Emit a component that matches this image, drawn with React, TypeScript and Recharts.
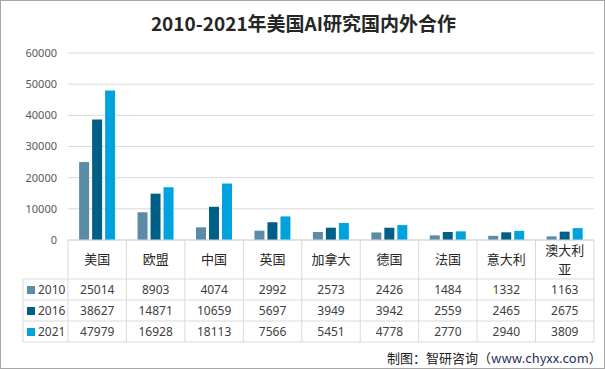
import { BarChart, Bar, XAxis, YAxis, CartesianGrid } from 'recharts';

const countries = ['美国', '欧盟', '中国', '英国', '加拿大', '德国', '法国', '意大利', '澳大利亚'];
const years = ['2010', '2016', '2021'];
const values2010 = [25014, 8903, 4074, 2992, 2573, 2426, 1484, 1332, 1163];
const values2016 = [38627, 14871, 10659, 5697, 3949, 3942, 2559, 2465, 2675];
const values2021 = [47979, 16928, 18113, 7566, 5451, 4778, 2770, 2940, 3809];
const yTicks = [0, 10000, 20000, 30000, 40000, 50000, 60000];

const COLORS = ['#5b8ba7', '#005f87', '#00a3dd'];
const seriesValues = [values2010, values2016, values2021];

const data = countries.map((name, i) => ({
  name,
  y2010: values2010[i],
  y2016: values2016[i],
  y2021: values2021[i],
}));

const W = 605;
const H = 369;
const PLOT_LEFT = 68;
const PLOT_RIGHT = 594;
const AXIS_Y = 240;
const COL_W = (PLOT_RIGHT - PLOT_LEFT) / countries.length;
const ROWS = [279, 300, 321, 342];
const LEGEND_X = 23;
const LINE = '#d9d9d9';
const FONT = '"Noto Sans CJK SC", "Noto Sans", sans-serif';
const NUM_FONT = '"Noto Sans", sans-serif';

// each x tick draws one column of the data table
const TableColumn = (props: any) => {
  const { x, payload } = props;
  const idx = payload.index;
  const name: string = payload.value;
  const right = x + COL_W / 2;
  const left = x - COL_W / 2;
  const lines = name.length > 3 ? [name.slice(0, 3), name.slice(3)] : [name];

  return (
    <g fontFamily={FONT}>
      {idx === 0 && (
        <g>
          <line x1={left} x2={left} y1={AXIS_Y} y2={ROWS[3]} stroke={LINE} />
          <line x1={LEGEND_X} x2={LEGEND_X} y1={ROWS[0]} y2={ROWS[3]} stroke={LINE} />
          {ROWS.map((ry) => (
            <line key={ry} x1={LEGEND_X} x2={PLOT_RIGHT} y1={ry} y2={ry} stroke={LINE} />
          ))}
          {years.map((yr, r) => (
            <g key={yr}>
              <rect x={27} y={ROWS[r] + 7} width={8} height={8} fill={COLORS[r]} />
              <text x={38} y={ROWS[r] + 15} fontSize={12} fontFamily={NUM_FONT} fill="#404040">
                {yr}
              </text>
            </g>
          ))}
        </g>
      )}
      <line x1={right} x2={right} y1={AXIS_Y} y2={ROWS[3]} stroke={LINE} />
      {lines.length === 1 ? (
        <text x={x} y={AXIS_Y + 24} textAnchor="middle" fontSize={13} fill="#262626">
          {lines[0]}
        </text>
      ) : (
        lines.map((l, k) => (
          <text key={k} x={x} y={AXIS_Y + 15 + k * 19} textAnchor="middle" fontSize={13} fill="#262626">
            {l}
          </text>
        ))
      )}
      {seriesValues.map((vals, r) => (
        <text
          key={r}
          x={x}
          y={ROWS[r] + 15}
          textAnchor="middle"
          fontSize={12}
          fontFamily={NUM_FONT}
          fill="#404040"
        >
          {vals[idx]}
        </text>
      ))}
    </g>
  );
};

export default function App() {
  return (
    <div
      style={{
        position: 'fixed',
        left: 0,
        top: 0,
        width: W,
        height: H,
        border: '1px solid #a6a6a6',
        boxSizing: 'border-box',
        background: '#fff',
        overflow: 'hidden',
      }}
    >
      <div
        style={{
          position: 'absolute',
          left: 0,
          top: 8,
          width: W,
          textAlign: 'center',
          fontFamily: FONT,
          fontWeight: 'bold',
          fontSize: 19,
          color: '#262626',
        }}
      >
        2010-2021年美国AI研究国内外合作
      </div>
      <div style={{ position: 'absolute', left: -1, top: -1 }}>
        <BarChart
          width={W}
          height={H}
          data={data}
          margin={{ top: 53, right: W - PLOT_RIGHT, bottom: 27, left: 10 }}
          barGap={3}
          barCategoryGap="19%"
        >
          <CartesianGrid vertical={false} stroke={LINE} />
          <XAxis
            dataKey="name"
            height={102}
            axisLine={{ stroke: LINE }}
            tickLine={false}
            interval={0}
            tick={<TableColumn />}
          />
          <YAxis
            width={58}
            domain={[0, 60000]}
            ticks={yTicks}
            axisLine={false}
            tickLine={false}
            tickMargin={5}
            tick={{ fontSize: 11, fill: '#595959', fontFamily: NUM_FONT }}
          />
          <Bar dataKey="y2010" fill={COLORS[0]} isAnimationActive={false} />
          <Bar dataKey="y2016" fill={COLORS[1]} isAnimationActive={false} />
          <Bar dataKey="y2021" fill={COLORS[2]} isAnimationActive={false} />
        </BarChart>
      </div>
      <div
        style={{
          position: 'absolute',
          left: 386,
          top: 347,
          fontFamily: FONT,
          fontSize: 13,
          color: '#1a1a1a',
          whiteSpace: 'nowrap',
        }}
      >
        制图：智研咨询（<span style={{ color: '#1f2f5f' }}>www.chyxx.com</span>）
      </div>
    </div>
  );
}
